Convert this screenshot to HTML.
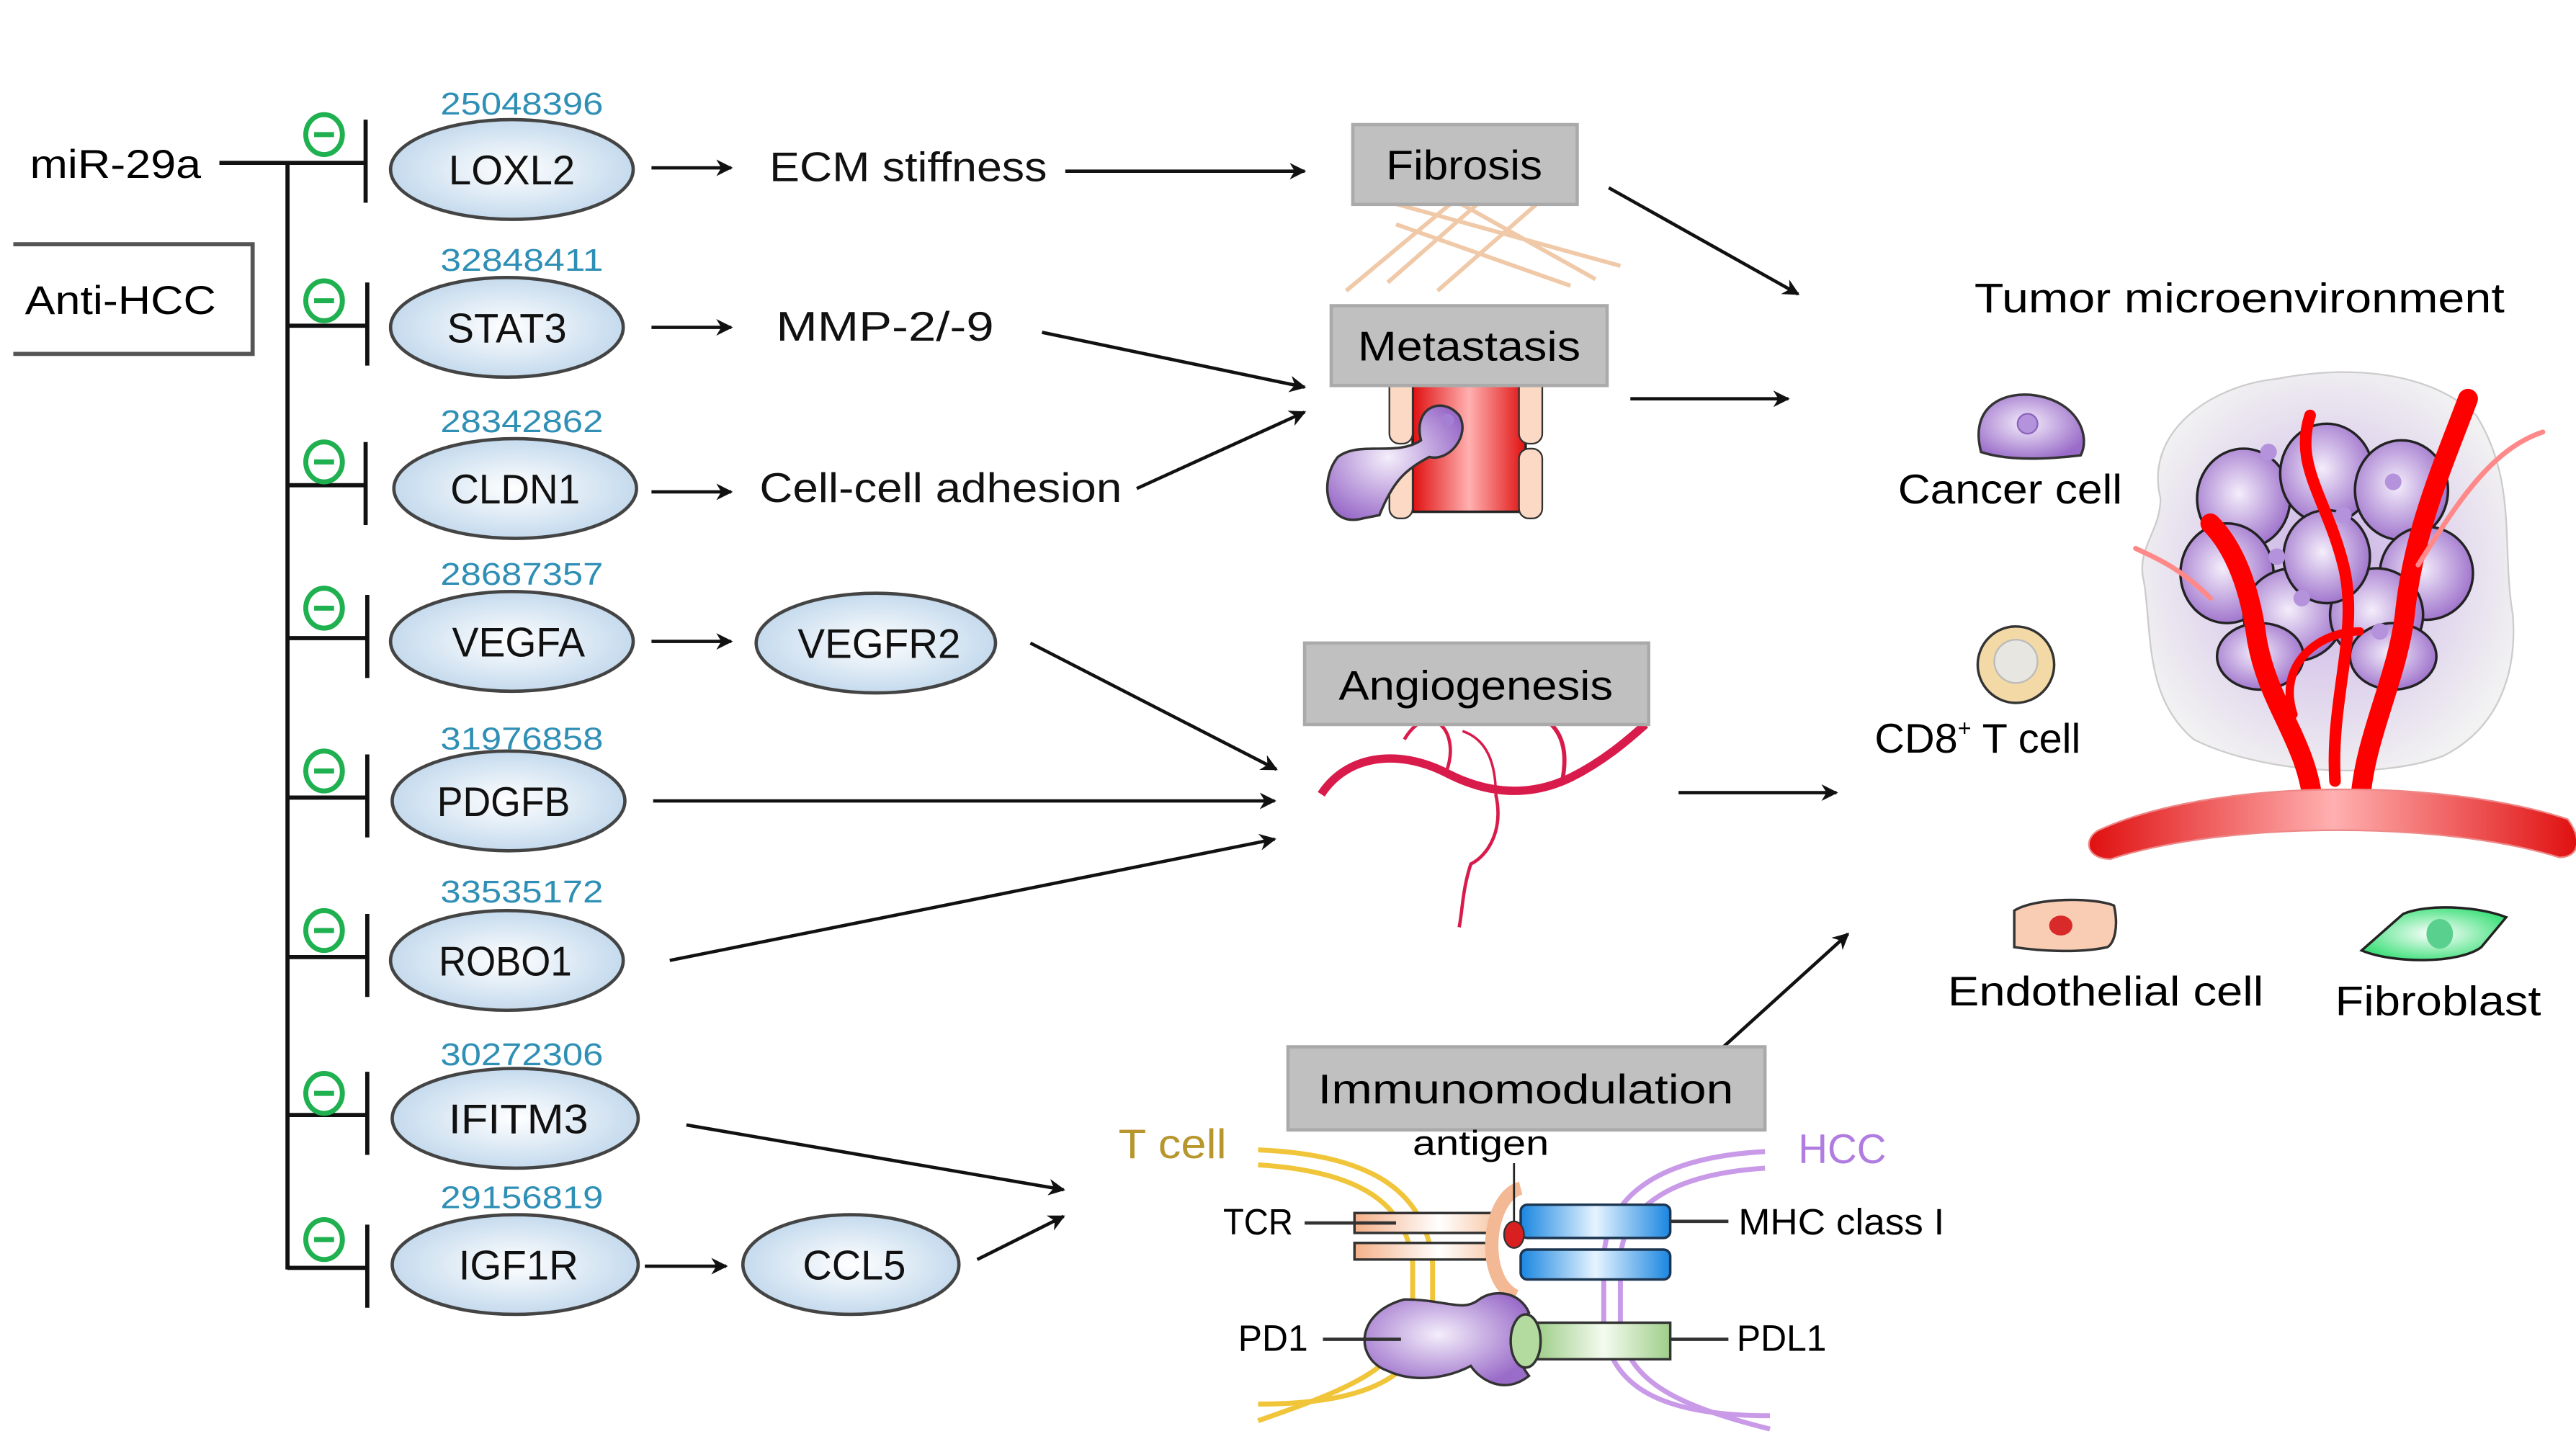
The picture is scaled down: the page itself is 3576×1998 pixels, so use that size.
<!DOCTYPE html>
<html><head><meta charset="utf-8"><style>
html,body{margin:0;padding:0;background:#fff;}
svg{display:block;}
text{font-family:"Liberation Sans",sans-serif;}
</style></head><body>
<svg width="3576" height="1998" viewBox="0 0 1550 866" preserveAspectRatio="none" xmlns="http://www.w3.org/2000/svg">
<defs>
<radialGradient id="eg" cx="50%" cy="50%" r="60%"><stop offset="0" stop-color="#ffffff"/><stop offset="1" stop-color="#b9d3ea"/></radialGradient>
<marker id="ah" markerWidth="10" markerHeight="10" refX="9" refY="5" orient="auto" markerUnits="userSpaceOnUse"><path d="M0,0 L10,5 L0,10 L3,5 Z" fill="#111"/></marker>
<radialGradient id="pc" cx="45%" cy="45%" r="60%"><stop offset="0" stop-color="#f4eefb"/><stop offset="1" stop-color="#9a6cc9"/></radialGradient>
<radialGradient id="halo" cx="50%" cy="50%" r="55%"><stop offset="0" stop-color="#c9b0e6"/><stop offset="1" stop-color="#f2f2f2"/></radialGradient>
<linearGradient id="blue" x1="0" x2="1"><stop offset="0" stop-color="#1a86e0"/><stop offset="0.5" stop-color="#e6f4ff"/><stop offset="1" stop-color="#1a86e0"/></linearGradient>
<linearGradient id="green" x1="0" x2="1"><stop offset="0" stop-color="#9fce8a"/><stop offset="0.5" stop-color="#f4fbef"/><stop offset="1" stop-color="#9fce8a"/></linearGradient>
<linearGradient id="peach" x1="0" x2="1"><stop offset="0" stop-color="#f4b088"/><stop offset="0.6" stop-color="#fff"/><stop offset="1" stop-color="#f8c8a8"/></linearGradient>
<linearGradient id="red" x1="0" x2="1"><stop offset="0" stop-color="#e01010"/><stop offset="0.5" stop-color="#ffb0b0"/><stop offset="1" stop-color="#e01010"/></linearGradient>
<linearGradient id="redv" x1="0" y1="0" x2="0" y2="1"><stop offset="0" stop-color="#ff2020"/><stop offset="0.5" stop-color="#ff0000"/><stop offset="1" stop-color="#ff3030"/></linearGradient>
<radialGradient id="fib" cx="50%" cy="50%" r="55%"><stop offset="0" stop-color="#ffffff"/><stop offset="1" stop-color="#3ee07a"/></radialGradient>
</defs>

<text x="18" y="107" font-size="24" textLength="103" lengthAdjust="spacingAndGlyphs">miR-29a</text>
<line x1="132" y1="98" x2="220" y2="98" stroke="#111" stroke-width="2.5"/>
<line x1="173" y1="98" x2="173" y2="764" stroke="#111" stroke-width="2.5"/>
<path d="M8,147 H152 V213 H8" fill="none" stroke="#555" stroke-width="2.5"/>
<text x="15" y="189" font-size="24" textLength="115" lengthAdjust="spacingAndGlyphs">Anti-HCC</text>

<g stroke="#111" stroke-width="2.5" fill="none">
<line x1="173" y1="196" x2="221" y2="196"/><line x1="173" y1="292" x2="221" y2="292"/>
<line x1="173" y1="384" x2="221" y2="384"/><line x1="173" y1="480" x2="221" y2="480"/>
<line x1="173" y1="576" x2="221" y2="576"/><line x1="173" y1="671" x2="221" y2="671"/>
<line x1="173" y1="763" x2="221" y2="763"/>
<line x1="220" y1="72" x2="220" y2="122"/><line x1="221" y1="170" x2="221" y2="220"/>
<line x1="220" y1="266" x2="220" y2="316"/><line x1="221" y1="358" x2="221" y2="408"/>
<line x1="221" y1="454" x2="221" y2="504"/><line x1="221" y1="550" x2="221" y2="600"/>
<line x1="221" y1="645" x2="221" y2="695"/><line x1="221" y1="737" x2="221" y2="787"/>
</g>
<g fill="#fff" stroke="#1fb050" stroke-width="3">
<ellipse cx="195" cy="81" rx="11" ry="12"/><ellipse cx="195" cy="181" rx="11" ry="12"/>
<ellipse cx="195" cy="278" rx="11" ry="12"/><ellipse cx="195" cy="366" rx="11" ry="12"/>
<ellipse cx="195" cy="464" rx="11" ry="12"/><ellipse cx="195" cy="560" rx="11" ry="12"/>
<ellipse cx="195" cy="658" rx="11" ry="12"/><ellipse cx="195" cy="746" rx="11" ry="12"/>
</g>
<g stroke="#1fb050" stroke-width="3">
<line x1="189" y1="81" x2="201" y2="81"/><line x1="189" y1="181" x2="201" y2="181"/>
<line x1="189" y1="278" x2="201" y2="278"/><line x1="189" y1="366" x2="201" y2="366"/>
<line x1="189" y1="464" x2="201" y2="464"/><line x1="189" y1="560" x2="201" y2="560"/>
<line x1="189" y1="658" x2="201" y2="658"/><line x1="189" y1="746" x2="201" y2="746"/>
</g>
<g fill="url(#eg)" stroke="#444" stroke-width="2">
<ellipse cx="308" cy="102" rx="73" ry="30"/><ellipse cx="305" cy="197" rx="70" ry="30"/>
<ellipse cx="310" cy="294" rx="73" ry="30"/><ellipse cx="308" cy="386" rx="73" ry="30"/>
<ellipse cx="306" cy="482" rx="70" ry="30"/><ellipse cx="305" cy="578" rx="70" ry="30"/>
<ellipse cx="310" cy="673" rx="74" ry="30"/><ellipse cx="310" cy="761" rx="74" ry="30"/>
<ellipse cx="527" cy="387" rx="72" ry="30"/><ellipse cx="512" cy="761" rx="65" ry="30"/>
</g>
<g font-size="25" text-anchor="middle" fill="#111" lengthAdjust="spacingAndGlyphs">
<text x="308" y="111" textLength="76" lengthAdjust="spacingAndGlyphs">LOXL2</text><text x="305" y="206" textLength="72" lengthAdjust="spacingAndGlyphs">STAT3</text>
<text x="310" y="303" textLength="78" lengthAdjust="spacingAndGlyphs">CLDN1</text><text x="312" y="395" textLength="80" lengthAdjust="spacingAndGlyphs">VEGFA</text>
<text x="303" y="491" textLength="80" lengthAdjust="spacingAndGlyphs">PDGFB</text><text x="304" y="587" textLength="80" lengthAdjust="spacingAndGlyphs">ROBO1</text>
<text x="312" y="682" textLength="84" lengthAdjust="spacingAndGlyphs">IFITM3</text><text x="312" y="770" textLength="72" lengthAdjust="spacingAndGlyphs">IGF1R</text>
<text x="529" y="396" textLength="98" lengthAdjust="spacingAndGlyphs">VEGFR2</text><text x="514" y="770" textLength="62" lengthAdjust="spacingAndGlyphs">CCL5</text>
</g>
<g font-size="19" text-anchor="middle" fill="#2f8fb5">
<text x="314" y="69" textLength="98" lengthAdjust="spacingAndGlyphs">25048396</text><text x="314" y="163" textLength="98" lengthAdjust="spacingAndGlyphs">32848411</text>
<text x="314" y="260" textLength="98" lengthAdjust="spacingAndGlyphs">28342862</text><text x="314" y="352" textLength="98" lengthAdjust="spacingAndGlyphs">28687357</text>
<text x="314" y="451" textLength="98" lengthAdjust="spacingAndGlyphs">31976858</text><text x="314" y="543" textLength="98" lengthAdjust="spacingAndGlyphs">33535172</text>
<text x="314" y="641" textLength="98" lengthAdjust="spacingAndGlyphs">30272306</text><text x="314" y="727" textLength="98" lengthAdjust="spacingAndGlyphs">29156819</text>
</g>

<g font-size="25" fill="#111">
<text x="463" y="109" textLength="167" lengthAdjust="spacingAndGlyphs">ECM stiffness</text>
<text x="467" y="205" textLength="131" lengthAdjust="spacingAndGlyphs">MMP-2/-9</text>
<text x="457" y="302" textLength="218" lengthAdjust="spacingAndGlyphs">Cell-cell adhesion</text>
</g>

<g stroke="#111" stroke-width="2" fill="none" marker-end="url(#ah)">
<line x1="392" y1="101" x2="440" y2="101"/>
<line x1="392" y1="197" x2="440" y2="197"/>
<line x1="392" y1="296" x2="440" y2="296"/>
<line x1="392" y1="386" x2="440" y2="386"/>
<line x1="641" y1="103" x2="785" y2="103"/>
<line x1="627" y1="200" x2="785" y2="233"/>
<line x1="684" y1="294" x2="785" y2="248"/>
<line x1="620" y1="387" x2="768" y2="463"/>
<line x1="393" y1="482" x2="767" y2="482"/>
<line x1="403" y1="578" x2="767" y2="505"/>
<line x1="413" y1="677" x2="640" y2="716"/>
<line x1="388" y1="762" x2="437" y2="762"/>
<line x1="588" y1="758" x2="640" y2="732"/>
<line x1="968" y1="113" x2="1082" y2="177"/>
<line x1="981" y1="240" x2="1076" y2="240"/>
<line x1="1010" y1="477" x2="1105" y2="477"/>
<line x1="1037" y1="630" x2="1112" y2="562"/>
</g>

<g stroke="#f0c9a8" stroke-width="2.5">
<line x1="810" y1="175" x2="900" y2="100"/><line x1="835" y1="170" x2="915" y2="100"/>
<line x1="865" y1="175" x2="945" y2="105"/><line x1="830" y1="120" x2="975" y2="160"/>
<line x1="860" y1="112" x2="960" y2="168"/><line x1="840" y1="135" x2="945" y2="172"/>
</g>
<rect x="814" y="75" width="135" height="48" fill="#c0c0c0" stroke="#aaa" stroke-width="2"/>
<text x="881" y="108" font-size="25" text-anchor="middle" textLength="94" lengthAdjust="spacingAndGlyphs">Fibrosis</text>

<rect x="850" y="228" width="68" height="80" fill="url(#red)" stroke="#222" stroke-width="1.5"/>
<rect x="836" y="225" width="14" height="42" rx="6" fill="#fbd9c4" stroke="#333"/>
<rect x="836" y="270" width="14" height="42" rx="6" fill="#fbd9c4" stroke="#333"/>
<rect x="914" y="225" width="14" height="42" rx="6" fill="#fbd9c4" stroke="#333"/>
<rect x="914" y="270" width="14" height="42" rx="6" fill="#fbd9c4" stroke="#333"/>
<path d="M820,312 C798,318 793,290 805,275 C818,265 840,275 855,265 C850,245 868,238 878,250 C885,262 872,278 860,275 C845,283 838,290 830,310 Z" fill="url(#pc)" stroke="#333" stroke-width="1.5"/>
<circle cx="871" cy="253" r="4" fill="#a57fd3"/>
<rect x="801" y="184" width="166" height="48" fill="#c0c0c0" stroke="#aaa" stroke-width="2"/>
<text x="884" y="217" font-size="25" text-anchor="middle" textLength="134" lengthAdjust="spacingAndGlyphs">Metastasis</text>

<g fill="none" stroke="#d81b4a">
<path d="M795,478 C810,455 840,450 870,465 C895,478 920,480 945,468 C965,458 980,445 990,436" stroke-width="5"/>
<path d="M870,465 C880,440 860,420 845,445" stroke-width="2"/>
<path d="M940,470 C945,445 935,435 925,430" stroke-width="2.5"/>
<path d="M900,478 C905,500 895,515 885,520 C880,535 880,548 878,558" stroke-width="2"/>
<path d="M900,478 C900,460 895,445 880,440" stroke-width="1.5"/>
</g>
<rect x="785" y="387" width="207" height="49" fill="#c0c0c0" stroke="#aaa" stroke-width="2"/>
<text x="888" y="421" font-size="25" text-anchor="middle" textLength="165" lengthAdjust="spacingAndGlyphs">Angiogenesis</text>

<rect x="775" y="630" width="287" height="50" fill="#c0c0c0" stroke="#aaa" stroke-width="2"/>
<text x="918" y="664" font-size="25" text-anchor="middle" textLength="250" lengthAdjust="spacingAndGlyphs">Immunomodulation</text>
<text x="673" y="697" font-size="25" fill="#b8962e" textLength="65" lengthAdjust="spacingAndGlyphs">T cell</text>
<text x="1082" y="700" font-size="25" fill="#b07ce0" textLength="53" lengthAdjust="spacingAndGlyphs">HCC</text>
<text x="850" y="695" font-size="21" textLength="82" lengthAdjust="spacingAndGlyphs">antigen</text>
<g fill="none" stroke="#f0c53a" stroke-width="3">
<path d="M757,692 C830,695 858,720 862,760 L862,790 C855,830 820,845 757,845"/>
<path d="M757,701 C820,705 846,725 850,760 L850,790 C845,822 815,835 757,855"/>
</g>
<g fill="none" stroke="#c99ae8" stroke-width="3">
<path d="M1062,693 C990,697 965,725 965,760 L965,800 C970,835 1000,852 1065,852"/>
<path d="M1062,703 C1000,707 975,730 975,760 L975,800 C980,830 1005,845 1065,860"/>
</g>
<path d="M815,730 H900 L900,742 H815 Z" fill="url(#peach)" stroke="#333" stroke-width="1.5"/>
<path d="M815,748 H900 L900,758 H815 Z" fill="url(#peach)" stroke="#333" stroke-width="1.5"/>
<path d="M915,715 C895,720 890,770 912,780" fill="none" stroke="#f3b894" stroke-width="8"/>
<rect x="915" y="725" width="90" height="20" rx="4" fill="url(#blue)" stroke="#1c3550" stroke-width="1.5"/>
<rect x="915" y="752" width="90" height="18" rx="4" fill="url(#blue)" stroke="#1c3550" stroke-width="1.5"/>
<ellipse cx="911" cy="743" rx="6" ry="8" fill="#d82020" stroke="#333"/>
<line x1="911" y1="700" x2="911" y2="735" stroke="#222" stroke-width="1.2"/>
<path d="M845,782 C870,782 880,790 890,782 C900,775 915,778 920,790 C910,800 910,815 920,828 C905,840 890,830 885,822 C870,830 850,832 835,825 C815,818 815,790 845,782 Z" fill="url(#pc)" stroke="#333" stroke-width="1.5"/>
<rect x="925" y="796" width="80" height="22" fill="url(#green)" stroke="#333" stroke-width="1.5"/>
<ellipse cx="918" cy="807" rx="9" ry="16" fill="#b3dba0" stroke="#333" stroke-width="1.5"/>
<g stroke="#333" stroke-width="2">
<line x1="785" y1="736" x2="840" y2="736"/><line x1="1005" y1="735" x2="1040" y2="735"/>
<line x1="796" y1="806" x2="843" y2="806"/><line x1="1005" y1="806" x2="1040" y2="806"/>
</g>
<g font-size="22">
<text x="736" y="743" textLength="42" lengthAdjust="spacingAndGlyphs">TCR</text><text x="1046" y="743" textLength="124" lengthAdjust="spacingAndGlyphs">MHC class I</text>
<text x="745" y="813" textLength="42" lengthAdjust="spacingAndGlyphs">PD1</text><text x="1045" y="813" textLength="54" lengthAdjust="spacingAndGlyphs">PDL1</text>
</g>

<text x="1188" y="188" font-size="25" textLength="319" lengthAdjust="spacingAndGlyphs">Tumor microenvironment</text>
<path d="M1192,272 C1185,245 1205,235 1225,238 C1250,242 1258,262 1252,274 C1235,276 1210,278 1192,272 Z" fill="url(#pc)" stroke="#333" stroke-width="1.5"/>
<circle cx="1220" cy="255" r="6" fill="#b593dc" stroke="#8a63bd"/>
<text x="1142" y="303" font-size="25" textLength="135" lengthAdjust="spacingAndGlyphs">Cancer cell</text>
<circle cx="1213" cy="400" r="23" fill="#f3d9a6" stroke="#333" stroke-width="1.5"/>
<circle cx="1213" cy="398" r="13" fill="#e8e6e0" stroke="#bbb"/>
<text x="1128" y="453" font-size="25">CD8<tspan font-size="14" dy="-10">+</tspan><tspan dy="10"> T cell</tspan></text>
<path d="M1212,548 C1225,540 1260,540 1272,545 C1275,558 1272,568 1268,570 C1250,574 1225,572 1212,570 Z" fill="#f9cdb3" stroke="#333" stroke-width="1.5"/>
<ellipse cx="1240" cy="557" rx="7" ry="6" fill="#d92a2a"/>
<text x="1172" y="605" font-size="25" textLength="190" lengthAdjust="spacingAndGlyphs">Endothelial cell</text>
<path d="M1421,572 L1446,550 C1460,544 1490,545 1508,552 L1493,570 C1480,580 1440,580 1421,572 Z" fill="url(#fib)" stroke="#222" stroke-width="1.5"/>
<ellipse cx="1468" cy="562" rx="8" ry="9" fill="#5ad08e"/>
<text x="1405" y="611" font-size="25" textLength="124" lengthAdjust="spacingAndGlyphs">Fibroblast</text>

<path d="M1300,300 C1290,260 1330,232 1370,228 C1410,220 1460,222 1490,250 C1515,290 1505,330 1512,370 C1515,410 1500,440 1470,455 C1430,470 1360,465 1320,445 C1290,420 1295,380 1290,350 C1285,330 1300,320 1300,300 Z" fill="url(#halo)" stroke="#ccc" stroke-width="1"/>
<g fill="url(#pc)" stroke="#222" stroke-width="1.5">
<ellipse cx="1350" cy="300" rx="28" ry="30"/><ellipse cx="1400" cy="285" rx="28" ry="30"/>
<ellipse cx="1445" cy="295" rx="28" ry="30"/><ellipse cx="1340" cy="345" rx="28" ry="30"/>
<ellipse cx="1460" cy="345" rx="28" ry="28"/><ellipse cx="1380" cy="370" rx="30" ry="28"/>
<ellipse cx="1430" cy="370" rx="28" ry="28"/><ellipse cx="1400" cy="335" rx="26" ry="28"/>
<ellipse cx="1360" cy="395" rx="26" ry="20"/><ellipse cx="1440" cy="395" rx="26" ry="20"/>
</g>
<g fill="#b593dc"><circle cx="1365" cy="272" r="5"/><circle cx="1440" cy="290" r="5"/><circle cx="1370" cy="335" r="5"/><circle cx="1410" cy="310" r="5"/><circle cx="1385" cy="360" r="5"/><circle cx="1432" cy="380" r="5"/></g>
<g fill="none" stroke="#ff0000" stroke-linecap="round">
<path d="M1392,485 C1388,445 1365,425 1358,385 C1354,355 1345,330 1330,315" stroke-width="12"/>
<path d="M1420,485 C1422,445 1442,410 1447,370 C1452,320 1470,280 1485,240" stroke-width="12"/>
<path d="M1405,470 C1402,420 1420,380 1410,340 C1400,300 1380,280 1390,250" stroke-width="7"/>
<path d="M1380,430 C1370,400 1395,380 1420,380" stroke-width="5"/>
<path d="M1455,340 C1480,300 1500,270 1530,260" stroke-width="3" stroke="#f88"/>
<path d="M1330,360 C1310,340 1295,335 1285,330" stroke-width="3" stroke="#f88"/>
</g>
<path d="M1262,500 C1330,468 1470,468 1545,493 C1554,505 1552,516 1540,516 C1470,494 1340,494 1270,517 C1256,517 1253,506 1262,500 Z" fill="url(#red)" stroke="#e88" stroke-width="1"/>
</svg>
</body></html>
